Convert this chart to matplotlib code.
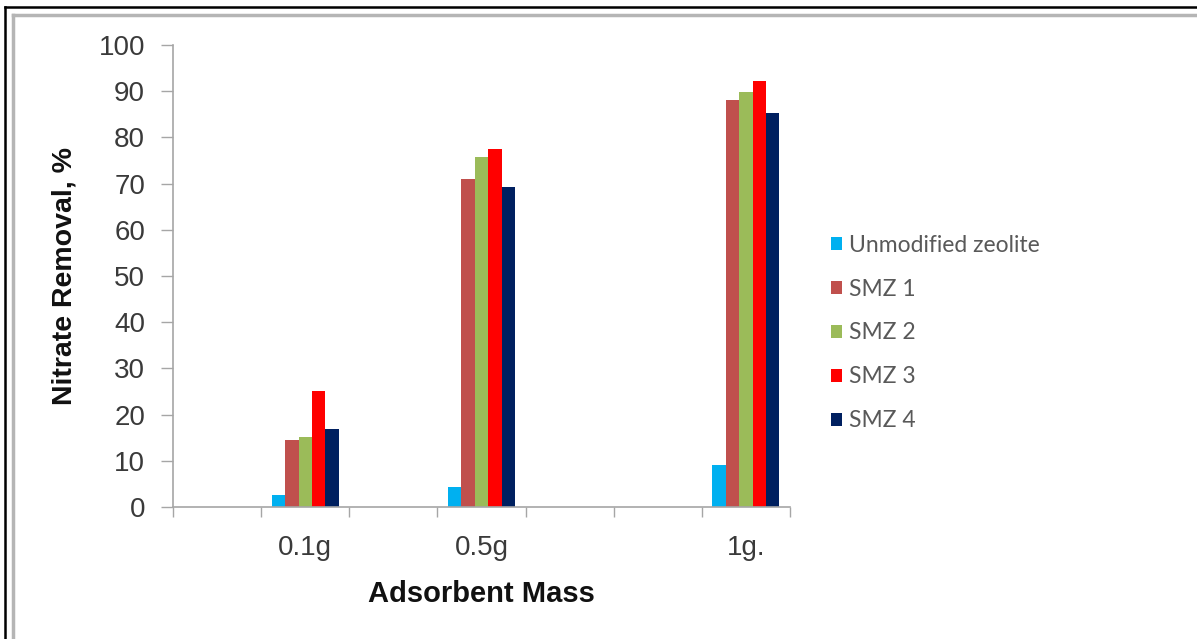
import numpy as np
import matplotlib
matplotlib.use("Agg")
import matplotlib.pyplot as plt
from matplotlib.lines import Line2D

# Adsorbent masses and nitrate removal (%) for each adsorbent
masses = ["0.1g", "0.5g", "1g."]
series_names = ["Unmodified zeolite", "SMZ 1", "SMZ 2", "SMZ 3", "SMZ 4"]
unmodified = [2.6, 4.4, 9.1]
smz1 = [14.5, 71.1, 88.1]
smz2 = [15.1, 75.8, 89.9]
smz3 = [25.2, 77.5, 92.1]
smz4 = [16.8, 69.3, 85.3]
yticks = [0, 10, 20, 30, 40, 50, 60, 70, 80, 90, 100]

series = [unmodified, smz1, smz2, smz3, smz4]
colors = ["#00B0F0", "#C0504D", "#9BBB59", "#FF0000", "#002060"]

# category axis has seven slots; the measured masses sit in slots 1, 3 and 6
n_slots = 7
slot_of_mass = [1, 3, 6]

W, H = 1197, 639
fig = plt.figure(figsize=(W / 100, H / 100), dpi=100)
ax = fig.add_axes([173 / W, 1 - 507 / H, (790 - 173) / W, (507 - 45) / H])

group_w = 0.76
bar_w = group_w / len(series)
x = np.array(slot_of_mass, dtype=float)
for i, (vals, col, name) in enumerate(zip(series, colors, series_names)):
    offs = -group_w / 2 + bar_w * (i + 0.5)
    ax.bar(x + offs, vals, width=bar_w, color=col, label=name, linewidth=0)

ax.set_xlim(-0.5, n_slots - 0.5)
ax.set_ylim(0, 100)

tick_col = "#a6a6a6"
text_col = "#3a3a3a"
font = "Liberation Sans"

ax.set_yticks(yticks)
ax.set_yticklabels([str(v) for v in yticks], fontsize=20, color=text_col, family=font)
ax.set_xticks(np.arange(n_slots + 1) - 0.5)
ax.set_xticklabels([])
ax.set_xticks(x, minor=True)
ax.set_xticklabels(masses, minor=True, fontsize=20, color=text_col, family=font)
ax.tick_params(axis="x", which="minor", length=0, pad=20)
ax.tick_params(axis="x", which="major", length=7, width=1, color=tick_col, direction="out")
ax.tick_params(axis="y", length=9, width=1, color=tick_col, direction="out", pad=11)

for s in ["top", "right"]:
    ax.spines[s].set_visible(False)
for s in ["left", "bottom"]:
    ax.spines[s].set_color(tick_col)
    ax.spines[s].set_linewidth(1.2)

ax.set_ylabel("Nitrate Removal, %", fontsize=20.5, fontweight="bold", family=font,
              color="#111111", labelpad=15)
ax.set_xlabel("Adsorbent Mass", fontsize=21, fontweight="bold", family=font,
              color="#111111", labelpad=14)

leg = fig.legend(loc="upper left", bbox_to_anchor=(810 / W, 1 - 214 / H),
                 frameon=False, handlelength=0.5, handleheight=0.5,
                 handletextpad=0.3, labelspacing=1.0,
                 prop={"family": "Lato", "size": 16.5})
for t in leg.get_texts():
    t.set_color("#595959")

# outer frame lines
fig.add_artist(Line2D([5 / W, 1], [1 - 7 / H, 1 - 7 / H], color="black", lw=1.8))
fig.add_artist(Line2D([5 / W, 5 / W], [0, 1 - 7 / H], color="black", lw=1.8))
fig.add_artist(Line2D([13 / W, 1], [1 - 15 / H, 1 - 15 / H], color="#b5b5b5", lw=2.5))
fig.add_artist(Line2D([13 / W, 13 / W], [0, 1 - 15 / H], color="#b5b5b5", lw=2.5))

fig.savefig("out.png", dpi=100)
